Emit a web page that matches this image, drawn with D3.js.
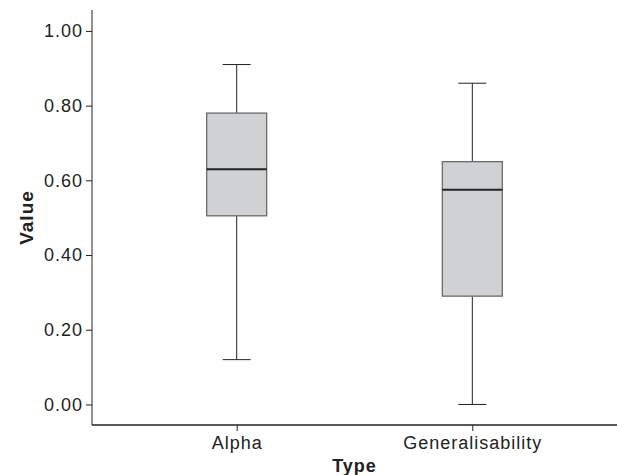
<!DOCTYPE html>
<html>
<head>
<meta charset="utf-8">
<script src="https://cdn.jsdelivr.net/npm/d3@7"></script>
<style>
  body { margin: 0; background: #fff; }
  text { font-family: "Liberation Sans", Arial, sans-serif; fill: #222; }
</style>
</head>
<body>
<div id="chart"></div>
<script>
// Box plot of reliability coefficients by type

const types = ['Alpha', 'Generalisability'];
const whiskerLow = [0.12, 0.00];
const q1 = [0.505, 0.29];
const medians = [0.63, 0.575];
const q3 = [0.78, 0.65];
const whiskerHigh = [0.91, 0.86];
const yTicks = [0, 0.2, 0.4, 0.6, 0.8, 1.0];

const data = types.map((t, i) => ({
    type: t, lo: whiskerLow[i], q1: q1[i], med: medians[i], q3: q3[i], hi: whiskerHigh[i]
}));

const W = 617, H = 475;
const plotLeft = 92, plotRight = 617, plotTop = 10, plotBottom = 425;

const svg = d3.select('#chart')
    .append('svg')
    .attr('width', W)
    .attr('height', H);

const x = d3.scalePoint()
    .domain(types)
    .range([plotLeft, plotRight])
    .padding(0.614);

const y = d3.scaleLinear()
    .domain([-0.055, 1.056])
    .range([plotBottom, plotTop]);

const boxW = 60, capW = 28;

// Boxes
const g = svg.selectAll('.box')
    .data(data)
    .enter()
    .append('g')
    .attr('class', 'box');

// whisker stems
g.append('line')
    .attr('x1', d => x(d.type)).attr('x2', d => x(d.type))
    .attr('y1', d => y(d.hi)).attr('y2', d => y(d.q3))
    .style('stroke', '#222').style('stroke-width', 1);
g.append('line')
    .attr('x1', d => x(d.type)).attr('x2', d => x(d.type))
    .attr('y1', d => y(d.q1)).attr('y2', d => y(d.lo))
    .style('stroke', '#222').style('stroke-width', 1);

// caps
g.append('line')
    .attr('x1', d => x(d.type) - capW / 2).attr('x2', d => x(d.type) + capW / 2)
    .attr('y1', d => y(d.hi)).attr('y2', d => y(d.hi))
    .style('stroke', '#222').style('stroke-width', 1);
g.append('line')
    .attr('x1', d => x(d.type) - capW / 2).attr('x2', d => x(d.type) + capW / 2)
    .attr('y1', d => y(d.lo)).attr('y2', d => y(d.lo))
    .style('stroke', '#222').style('stroke-width', 1);

// IQR box
g.append('rect')
    .attr('x', d => x(d.type) - boxW / 2)
    .attr('width', boxW)
    .attr('y', d => y(d.q3))
    .attr('height', d => y(d.q1) - y(d.q3))
    .style('fill', '#d0d1d3')
    .style('stroke', '#6a6a6a')
    .style('stroke-width', 1.3);

// median
g.append('line')
    .attr('x1', d => x(d.type) - boxW / 2).attr('x2', d => x(d.type) + boxW / 2)
    .attr('y1', d => y(d.med)).attr('y2', d => y(d.med))
    .style('stroke', '#222').style('stroke-width', 2);

// Y axis
const yAxis = svg.append('g')
    .attr('transform', `translate(${plotLeft},0)`)
    .call(d3.axisLeft(y).tickValues(yTicks).tickSize(6).tickPadding(3)
        .tickFormat(d3.format('.2f')));
yAxis.select('.domain').attr('d', `M0,${plotTop}V${plotBottom}`).style('stroke', '#222');
yAxis.selectAll('.tick line').style('stroke', '#222');
yAxis.selectAll('.tick text')
    .style('font-size', '18px')
    .style('letter-spacing', '1px')
    .style('font-family', '"Liberation Sans", Arial, sans-serif')
    .style('fill', '#222');

// X axis
const xAxis = svg.append('g')
    .attr('transform', `translate(0,${plotBottom})`)
    .call(d3.axisBottom(x).tickSize(6).tickPadding(5));
xAxis.select('.domain').attr('d', `M${plotLeft},0H${plotRight}`).style('stroke', '#222').style('stroke-width', 1.3);
xAxis.selectAll('.tick line').style('stroke', '#222');
xAxis.selectAll('.tick text')
    .style('font-size', '18px')
    .style('letter-spacing', '1px')
    .style('font-family', '"Liberation Sans", Arial, sans-serif')
    .style('fill', '#222');

// Axis titles
svg.append('text')
    .attr('x', (plotLeft + plotRight) / 2)
    .attr('y', 472)
    .style('text-anchor', 'middle')
    .style('font-size', '18px')
    .style('letter-spacing', '1px')
    .style('font-weight', 'bold')
    .text('Type');

svg.append('text')
    .attr('transform', 'rotate(-90)')
    .attr('x', -(plotTop + plotBottom) / 2)
    .attr('y', 33)
    .style('text-anchor', 'middle')
    .style('font-size', '19px')
    .style('letter-spacing', '1px')
    .style('font-weight', 'bold')
    .text('Value');
</script>
</body>
</html>
